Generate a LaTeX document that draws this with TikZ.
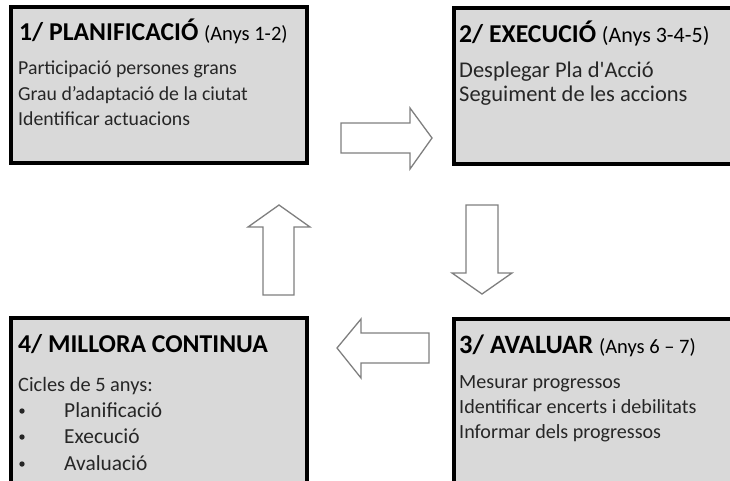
\documentclass[tikz,border=0pt]{standalone}
\usepackage{fontspec}
\setmainfont{Carlito}[Ligatures=TeXOff]
\newcommand\yrsfnt{\fontsize{20.5}{24}\mdseries\selectfont}
\begin{document}
\begin{tikzpicture}[x=1pt,y=-1pt,
  box/.style={draw=black,line width=3.5pt,fill=boxgray},
  blockarrow/.style={draw=arrowgray,line width=1.3pt,fill=white,line join=miter},
  ttl/.style={anchor=base west,inner sep=0pt,font=\fontsize{25.7}{28}\selectfont\bfseries},
  txt/.style={anchor=base west,inner sep=0pt,font=\fontsize{19.8}{24}\selectfont,text=textgray}]
\definecolor{boxgray}{HTML}{D9D9D9}
\definecolor{arrowgray}{HTML}{7F7F7F}
\definecolor{textgray}{HTML}{262626}
\useasboundingbox (0,0) rectangle (730,480);
\begin{scope}
\clip (0,0) rectangle (730,480);
% boxes
\draw[box] (11,7) rectangle (307,163);
\draw[box] (454,8) rectangle (745,164);
\draw[box] (454,319) rectangle (745,495);
\draw[box] (11,318) rectangle (307,495);
\end{scope}
% box 1
\node[ttl] (t1) at (19,40) {1/ PLANIFICACIÓ {\yrsfnt(Anys 1-2)}};
\node[txt] (a1) at (18,74) {Participació persones grans};
\node[txt] (a2) at (18,100) {Grau d’adaptació de la ciutat};
\node[txt] (a3) at (18,125) {Identificar actuacions};
% box 2
\node[ttl] (t2) at (459,42) {2/ EXECUCIÓ {\fontsize{22}{24}\mdseries\selectfont(Anys 3-4-5)}};
\node[txt,font=\fontsize{22.5}{24}\selectfont] (b1) at (459,77) {Desplegar Pla d'Acció};
\node[txt,font=\fontsize{22.5}{24}\selectfont] (b2) at (459,101) {Seguiment de les accions};
% box 3
\node[ttl,font=\fontsize{26.5}{30}\selectfont\bfseries] (t3) at (459,353) {3/ AVALUAR {\yrsfnt(Anys 6 – 7)}};
\node[txt,font=\fontsize{20.1}{24}\selectfont] (c1) at (459,388) {Mesurar progressos};
\node[txt,font=\fontsize{20.1}{24}\selectfont] (c2) at (459,413) {Identificar encerts i debilitats};
\node[txt,font=\fontsize{20.1}{24}\selectfont] (c3) at (459,438) {Informar dels progressos};
% box 4
\node[ttl] (t4) at (18,352) {4/ MILLORA CONTINUA};
\node[txt,font=\fontsize{20.4}{24}\selectfont] (d0) at (18,391) {Cicles de 5 anys:};
\node[txt,font=\fontsize{21.4}{24}\selectfont] (d1) at (64,417) {Planificació};
\node[txt,font=\fontsize{21.4}{24}\selectfont] (d2) at (64,443) {Execució};
\node[txt,font=\fontsize{21.4}{24}\selectfont] (d3) at (64,470) {Avaluació};
\foreach \yy in {417,443,470} \fill[textgray] (22,\yy-6) circle (2.7);
% block arrows
\draw[blockarrow] (341,123) -- (410,123) -- (410,108) -- (432,138) -- (410,169) -- (410,153) -- (341,153) -- cycle;
\draw[blockarrow] (466,205) -- (498,205) -- (498,273) -- (512,273) -- (482,294) -- (452,273) -- (466,273) -- cycle;
\draw[blockarrow] (429,333) -- (361,333) -- (361,319) -- (337,348) -- (361,378) -- (361,363) -- (429,363) -- cycle;
\draw[blockarrow] (263,295) -- (263,227) -- (248,227) -- (279,205) -- (310,227) -- (294,227) -- (294,295) -- cycle;
\end{tikzpicture}
\end{document}
